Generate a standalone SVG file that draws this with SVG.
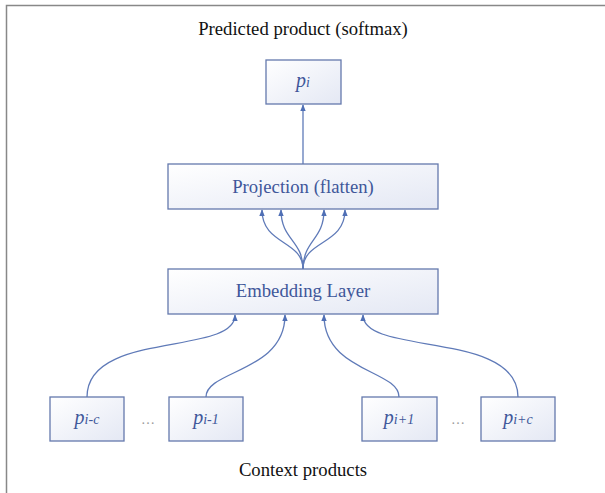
<svg xmlns="http://www.w3.org/2000/svg" width="605" height="493" viewBox="0 0 605 493">
<style>
.box{fill:url(#g);stroke:#6479ad;stroke-width:1.3}
.lbl{font-family:"Liberation Serif",serif;font-size:18.7px;fill:#40579a;text-anchor:middle}
.cap{font-family:"Liberation Serif",serif;font-size:18.7px;fill:#111;text-anchor:middle}
.pv{font-family:"Liberation Serif",serif;font-style:italic;fill:#40579a;text-anchor:middle}
.dots{font-family:"Liberation Serif",serif;font-size:14px;fill:#9a9a9a;text-anchor:middle}
.con{fill:none;stroke:#5f7ab8;stroke-width:1.3;marker-end:url(#a)}
</style>
<defs>
<linearGradient id="g" x1="0" y1="0" x2="1" y2="1">
<stop offset="0" stop-color="#ffffff"/>
<stop offset="1" stop-color="#e4e8f4"/>
</linearGradient>
<marker id="a" viewBox="0 0 10 10" refX="9" refY="5" markerWidth="7" markerHeight="7" orient="auto" markerUnits="userSpaceOnUse">
<path d="M0,1 L10,5 L0,9 Z" fill="#4f6fb5"/>
</marker>
</defs>
<rect width="605" height="493" fill="#fff"/>
<path d="M6.5,493 V5.5 H605" fill="none" stroke="#888" stroke-width="1.5"/>
<text class="cap" x="303" y="35">Predicted product (softmax)</text>
<text class="cap" x="303" y="476">Context products</text>
<g id="connectors">
<path class="con" d="M303,164 V105"/>
<path class="con" d="M303,269 C303,240 262,245 262,210"/>
<path class="con" d="M303,269 C303,240 281,240 281,210"/>
<path class="con" d="M303,269 C303,240 324,240 324,210"/>
<path class="con" d="M303,269 C303,240 345,245 345,210"/>
<path class="con" d="M87,397 C87,330 235,356 235,315"/>
<path class="con" d="M206,397 C206,370 285,372 285,315"/>
<path class="con" d="M399,397 C399,370 324,372 324,315"/>
<path class="con" d="M518,397 C518,330 363,356 363,315"/>
</g>
<g id="node-pi">
<rect class="box" x="266" y="60" width="75" height="44"/>
<text class="pv" x="303" y="87"><tspan font-size="20">p</tspan><tspan font-size="14">i</tspan></text>
</g>
<g id="node-projection">
<rect class="box" x="168" y="164" width="270" height="45"/>
<text class="lbl" x="303" y="193">Projection (flatten)</text>
</g>
<g id="node-embedding">
<rect class="box" x="168" y="269" width="270" height="45"/>
<text class="lbl" x="303" y="297">Embedding Layer</text>
</g>
<g id="node-pic">
<rect class="box" x="50" y="397" width="74" height="44"/>
<text class="pv" x="87" y="424"><tspan font-size="20">p</tspan><tspan font-size="14">i-c</tspan></text>
</g>
<g id="node-pi1m">
<rect class="box" x="169" y="397" width="74" height="44"/>
<text class="pv" x="206" y="424"><tspan font-size="20">p</tspan><tspan font-size="14">i-1</tspan></text>
</g>
<g id="node-pi1p">
<rect class="box" x="362" y="397" width="75" height="44"/>
<text class="pv" x="399" y="424"><tspan font-size="20">p</tspan><tspan font-size="14">i+1</tspan></text>
</g>
<g id="node-picp">
<rect class="box" x="481" y="397" width="74" height="44"/>
<text class="pv" x="518" y="424"><tspan font-size="20">p</tspan><tspan font-size="14">i+c</tspan></text>
</g>
<text class="dots" x="148" y="424">…</text>
<text class="dots" x="458" y="424">…</text>
</svg>
